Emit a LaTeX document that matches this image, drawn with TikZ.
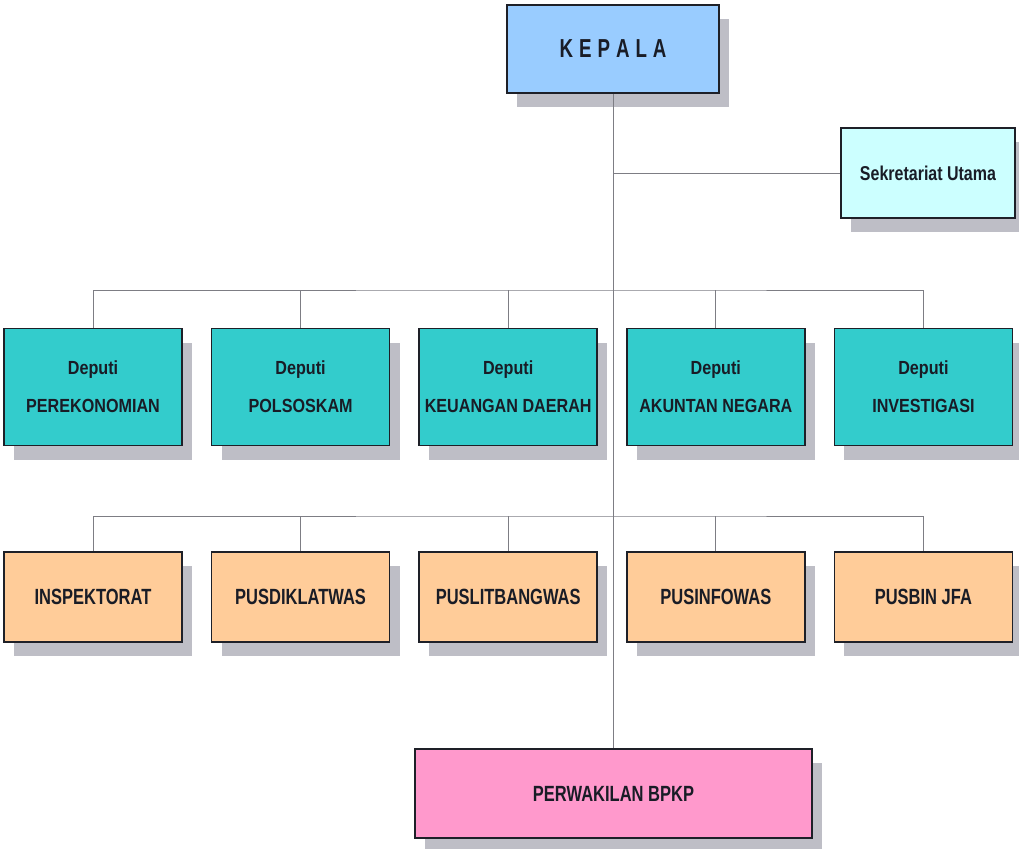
\documentclass[tikz,border=0pt]{standalone}
\usepackage{fontspec}
\usetikzlibrary{positioning,shadows}

\newfontfamily\headfont[FakeStretch=0.72]{Liberation Sans}
\newfontfamily\deputifont[FakeStretch=0.85]{Liberation Sans}
\newfontfamily\unitfont[FakeStretch=0.75]{Liberation Sans}
\newfontfamily\sekfont[FakeStretch=0.8]{Liberation Sans}

\definecolor{kepalablue}{RGB}{153,204,255}
\definecolor{sekcyan}{RGB}{204,255,255}
\definecolor{deputiteal}{RGB}{51,204,204}
\definecolor{unitorange}{RGB}{255,204,153}
\definecolor{wakilpink}{RGB}{255,153,204}
\definecolor{boxline}{RGB}{30,32,40}
\definecolor{textdark}{RGB}{25,28,38}
\definecolor{shadowgray}{RGB}{190,190,198}
\definecolor{linkgray}{RGB}{125,125,132}

\tikzset{
  box/.style={draw=boxline, line width=1.6pt, text=textdark, inner sep=0pt, align=center,
    general shadow={fill=shadowgray, shadow xshift=10pt, shadow yshift=-14pt}},
  head/.style={box, fill=kepalablue, minimum width=212pt, minimum height=88pt,
    font=\headfont\bfseries\fontsize{26}{30}\selectfont},
  sekbox/.style={box, fill=sekcyan, minimum width=174pt, minimum height=90pt,
    font=\sekfont\bfseries\fontsize{20}{24}\selectfont},
  deputi/.style={box, fill=deputiteal, minimum width=178pt, minimum height=117pt,
    font=\deputifont\bfseries\fontsize{19}{38}\selectfont},
  unit/.style={box, fill=unitorange, minimum width=178pt, minimum height=90pt,
    font=\unitfont\bfseries\fontsize{22}{26}\selectfont},
  wakil/.style={box, fill=wakilpink, minimum width=397pt, minimum height=89pt,
    font=\unitfont\bfseries\fontsize{22}{26}\selectfont},
  link/.style={draw=linkgray, line width=1pt}
}

\begin{document}
\begin{tikzpicture}[x=1pt, y=-1pt]

    \useasboundingbox (0,0) rectangle (1019,848);

    % Define nodes
    \node[head]                      (kepala) at (613,49) {K\hspace{6pt}E\hspace{6pt}P\hspace{6pt}A\hspace{6pt}L\hspace{6pt}A};
    \node[sekbox]                    (sekretariat) at (928,173) {Sekretariat Utama};

    \node[deputi]                    (d1) at (93,387) {Deputi\\PEREKONOMIAN};
    \node[deputi, right=28pt of d1]  (d2) {Deputi\\POLSOSKAM};
    \node[deputi, right=28pt of d2]  (d3) {Deputi\\KEUANGAN DAERAH};
    \node[deputi, right=28pt of d3]  (d4) {Deputi\\AKUNTAN NEGARA};
    \node[deputi, right=28pt of d4]  (d5) {Deputi\\INVESTIGASI};

    \node[unit]                      (u1) at (93,597) {INSPEKTORAT};
    \node[unit, right=28pt of u1]    (u2) {PUSDIKLATWAS};
    \node[unit, right=28pt of u2]    (u3) {PUSLITBANGWAS};
    \node[unit, right=28pt of u3]    (u4) {PUSINFOWAS};
    \node[unit, right=28pt of u4]    (u5) {PUSBIN JFA};

    \node[wakil]                     (perwakilan) at (613.5,793.5) {PERWAKILAN BPKP};

    \coordinate (deputibus) at (613,290);
    \coordinate (unitbus)   at (613,516);

    % Connect the nodes
    \draw[link] (kepala.south) -- (kepala.south |- perwakilan.north);
    \draw[link] (kepala.south |- sekretariat.west) -- (sekretariat.west);

    \draw[link] (d1.north) |- (deputibus) -| (d5.north);
    \draw[link] (d2.north) -- (d2.north |- deputibus);
    \draw[link] (d3.north) -- (d3.north |- deputibus);
    \draw[link] (d4.north) -- (d4.north |- deputibus);

    \draw[link] (u1.north) |- (unitbus) -| (u5.north);
    \draw[link] (u2.north) -- (u2.north |- unitbus);
    \draw[link] (u3.north) -- (u3.north |- unitbus);
    \draw[link] (u4.north) -- (u4.north |- unitbus);

\end{tikzpicture}
\end{document}
